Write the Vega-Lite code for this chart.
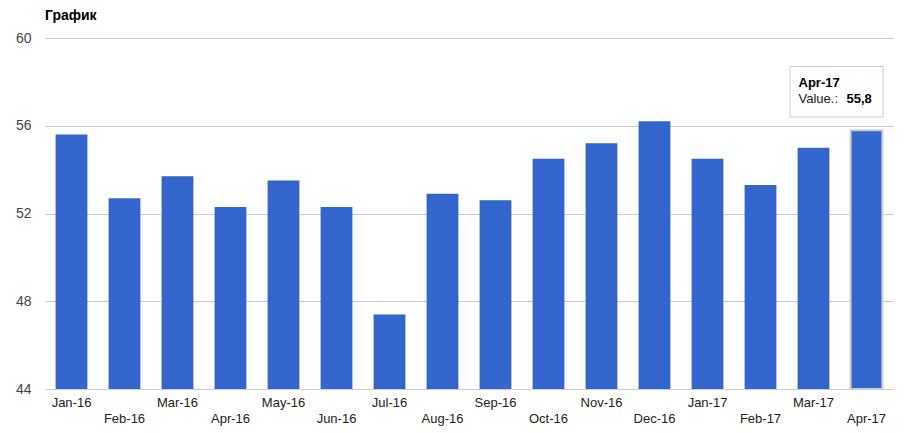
{
  "$schema": "https://vega.github.io/schema/vega-lite/v6.json",
  "autosize": {"type": "none"},
  "width": 848,
  "height": 351,
  "padding": {"left": 45, "top": 38, "right": 18, "bottom": 44},
  "background": "#ffffff",
  "title": {
    "text": "График",
    "anchor": "start",
    "frame": "group",
    "font": "Liberation Sans",
    "fontSize": 14,
    "fontWeight": "bold",
    "color": "#000000",
    "offset": 8
  },
  "config": {
    "view": {"stroke": null},
    "font": "Liberation Sans"
  },
  "data": {
    "values": [
      {"month": "Jan-16", "value": 55.6},
      {"month": "Feb-16", "value": 52.7},
      {"month": "Mar-16", "value": 53.7},
      {"month": "Apr-16", "value": 52.3},
      {"month": "May-16", "value": 53.5},
      {"month": "Jun-16", "value": 52.3},
      {"month": "Jul-16", "value": 47.4},
      {"month": "Aug-16", "value": 52.9},
      {"month": "Sep-16", "value": 52.6},
      {"month": "Oct-16", "value": 54.5},
      {"month": "Nov-16", "value": 55.2},
      {"month": "Dec-16", "value": 56.2},
      {"month": "Jan-17", "value": 54.5},
      {"month": "Feb-17", "value": 53.3},
      {"month": "Mar-17", "value": 55.0},
      {"month": "Apr-17", "value": 55.8}
    ]
  },
  "encoding": {
    "x": {
      "field": "month",
      "type": "nominal",
      "sort": null,
      "scale": {"paddingInner": 0.4, "paddingOuter": 0.2},
      "axis": {
        "title": null,
        "domain": false,
        "ticks": false,
        "labelAngle": 0,
        "labelOverlap": false,
        "labelPadding": 7,
        "labelFontSize": 13,
        "labelLineHeight": 16,
        "labelColor": "#222222",
        "labelFont": "Liberation Sans",
        "labelBaseline": "top",
        "labelExpr": "indexof(['Jan-16','Mar-16','May-16','Jul-16','Sep-16','Nov-16','Jan-17','Mar-17'], datum.value) >= 0 ? datum.label : ['', datum.label]"
      }
    }
  },
  "layer": [
    {
      "mark": {"type": "bar", "color": "#3366cc", "strokeWidth": 2},
      "encoding": {
        "y": {
          "field": "value",
          "type": "quantitative",
          "scale": {"domain": [44, 60], "zero": false, "nice": false},
          "axis": {
            "title": null,
            "values": [44, 48, 52, 56, 60],
            "domain": false,
            "ticks": false,
            "labelPadding": 14,
            "labelFontSize": 14,
            "labelColor": "#444444",
            "labelFont": "Liberation Sans",
            "gridColor": "#cccccc",
            "gridWidth": 1
          }
        },
        "y2": {"datum": 44},
        "stroke": {
          "condition": {"test": "datum.month === 'Apr-17'", "value": "#cccccc"},
          "value": null
        }
      }
    },
    {
      "mark": {"type": "rect", "fill": "#ffffff", "stroke": "#cccccc", "strokeWidth": 1, "width": 93, "xOffset": -30},
      "transform": [{"filter": "datum.month === 'Apr-17'"}],
      "encoding": {
        "y": {"datum": 58.7},
        "y2": {"datum": 56.4}
      }
    },
    {
      "mark": {"type": "text", "align": "left", "baseline": "middle", "dx": -68, "fontWeight": "bold", "fontSize": 13, "color": "#000000", "font": "Liberation Sans"},
      "transform": [{"filter": "datum.month === 'Apr-17'"}],
      "encoding": {
        "y": {"datum": 57.95},
        "text": {"field": "month"}
      }
    },
    {
      "mark": {"type": "text", "align": "left", "baseline": "middle", "dx": -68, "fontSize": 13, "color": "#222222", "font": "Liberation Sans", "text": "Value.:"},
      "transform": [{"filter": "datum.month === 'Apr-17'"}],
      "encoding": {
        "y": {"datum": 57.2}
      }
    },
    {
      "mark": {"type": "text", "align": "left", "baseline": "middle", "dx": -20, "fontSize": 13, "fontWeight": "bold", "color": "#000000", "font": "Liberation Sans"},
      "transform": [
        {"filter": "datum.month === 'Apr-17'"},
        {"calculate": "replace(format(datum.value, '.1f'), '.', ',')", "as": "label"}
      ],
      "encoding": {
        "y": {"datum": 57.2},
        "text": {"field": "label"}
      }
    }
  ]
}
